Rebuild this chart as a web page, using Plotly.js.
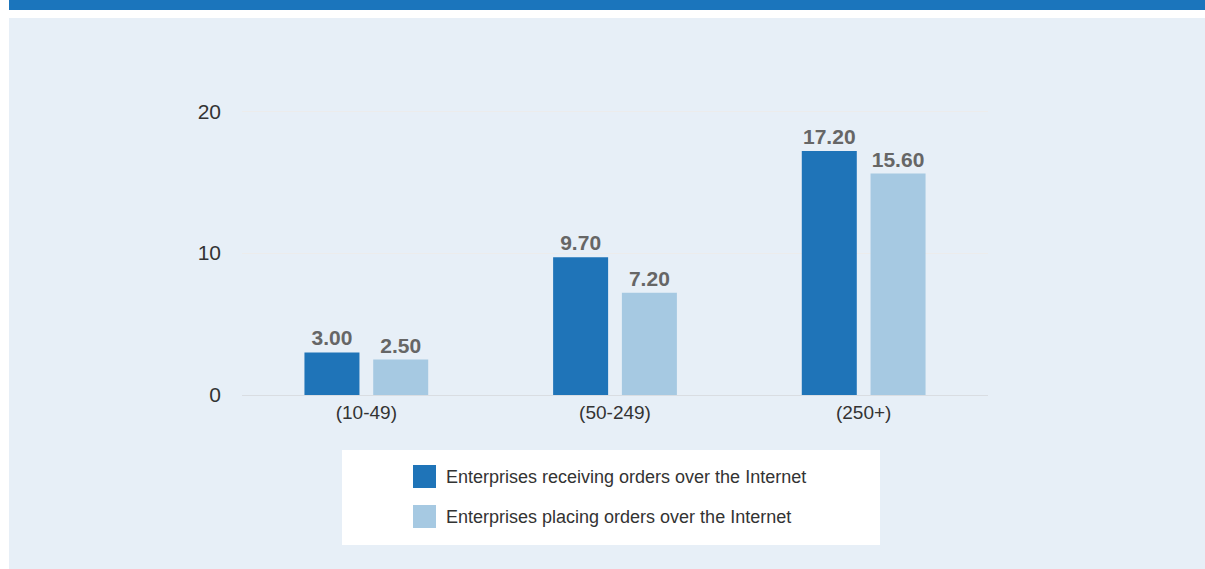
<!DOCTYPE html>
<html>
<head>
<meta charset="utf-8">
<script src="https://cdn.plot.ly/plotly-3.0.1.min.js"></script>
<style>
html,body{margin:0;padding:0;background:#fff;}
#chart{width:1205px;height:569px;}
</style>
</head>
<body>
<div id="chart"></div>
<script>
const categories = ["(10-49)", "(50-249)", "(250+)"];
const seriesNames = ["Enterprises receiving orders over the Internet", "Enterprises placing orders over the Internet"];
const receiving = [3.00, 9.70, 17.20];
const placing = [2.50, 7.20, 15.60];
const tickVals = [0, 10, 20];
const tickText = ["0", "10", "20"];

const colors = ["#1f74b8", "#a6c9e2"];
const narrow = "Liberation Sans Narrow, Arial Narrow, Liberation Sans, sans-serif";

const traces = [receiving, placing].map((vals, i) => ({
  type: "bar",
  x: categories,
  y: vals,
  name: seriesNames[i],
  marker: {color: colors[i]},
  text: vals.map(v => v.toFixed(2)),
  textposition: "outside",
  cliponaxis: false,
  textfont: {family: narrow, size: 21, color: "#666666", weight: "bold"},
  hoverinfo: "x+y+name"
}));

// legend drawn as shapes + annotations built from series names
const legendShapes = [
  {type: "rect", xref: "paper", yref: "paper", layer: "below",
   x0: (342-242)/746, x1: (880-242)/746, y0: (395-545)/325, y1: (395-450)/325,
   fillcolor: "#ffffff", line: {width: 0}}
];
const legendAnn = [];
seriesNames.forEach((n, i) => {
  const top = 465 + i*40;
  legendShapes.push({type: "rect", xref: "paper", yref: "paper",
    x0: (413-242)/746, x1: (436-242)/746, y0: (395-(top+23))/325, y1: (395-top)/325,
    fillcolor: colors[i], line: {width: 0}});
  legendAnn.push({xref: "paper", yref: "paper", x: (444-242)/746, y: (395-(top+12))/325,
    xanchor: "left", yanchor: "middle", showarrow: false, text: n,
    font: {family: narrow, size: 18, color: "#333333"}});
});

const bgShapes = [
  {type: "rect", xref: "paper", yref: "paper", layer: "below",
   x0: (9-242)/746, x1: (1205-242)/746, y0: (395-569)/325, y1: (395-18)/325,
   fillcolor: "#e7eff7", line: {width: 0}},
  {type: "rect", xref: "paper", yref: "paper", layer: "below",
   x0: (9-242)/746, x1: (1205-242)/746, y0: (395-10)/325, y1: (395-0)/325,
   fillcolor: "#1b75bc", line: {width: 0}}
];

const layout = {
  width: 1205, height: 569,
  margin: {l: 242, r: 217, t: 70, b: 174},
  paper_bgcolor: "#ffffff",
  plot_bgcolor: "#ffffff",
  showlegend: false,
  barmode: "group",
  bargap: 0.447,
  bargroupgap: 0.2,
  xaxis: {
    range: [-0.5, 2.5],
    tickfont: {family: narrow, size: 19, color: "#333333"},
    showline: true, linecolor: "#d9dde2", linewidth: 1,
    ticks: "", showgrid: false, fixedrange: true
  },
  yaxis: {
    range: [0, 22.9],
    tickvals: tickVals, ticktext: tickText,
    tickfont: {family: narrow, size: 21, color: "#333333"},
    ticklabelstandoff: 20,
    showgrid: true, gridcolor: "#ececec", gridwidth: 1,
    zeroline: false, showline: false, ticks: "", fixedrange: true
  },
  shapes: bgShapes.concat(legendShapes),
  annotations: legendAnn
};

Plotly.newPlot("chart", traces, layout, {displayModeBar: false, staticPlot: true});
</script>
</body>
</html>
